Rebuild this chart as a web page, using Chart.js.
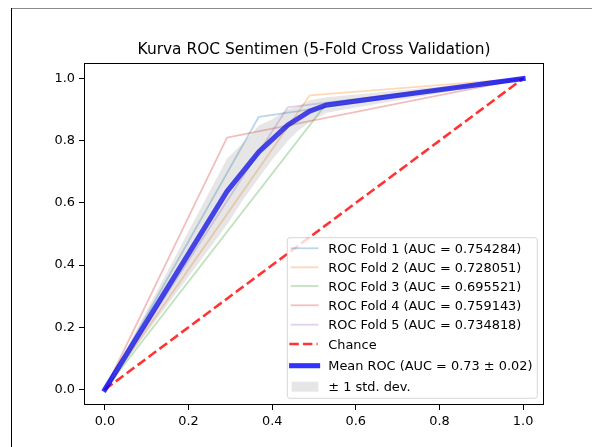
<!DOCTYPE html>
<html><head><meta charset="utf-8">
<script src="https://cdn.jsdelivr.net/npm/chart.js@4/dist/chart.umd.min.js"></script>
<style>
html,body{margin:0;padding:0;background:#fff;overflow:hidden}
#wrap{position:relative;width:592px;height:447px;background:#fff}
canvas{position:absolute;left:0;top:0}
.fr-top{position:absolute;left:11px;top:8px;width:581px;height:1px;background:#8a8a8a}
.fr-left{position:absolute;left:11px;top:8px;width:1px;height:439px;background:#000}
</style></head><body>
<div id="wrap"><canvas id="c" width="592" height="447"></canvas><div class="fr-top"></div><div class="fr-left"></div></div>
<script>
// ---- data ----
const chartTitle = 'Kurva ROC Sentimen (5-Fold Cross Validation)';
const xTicks = [0, 0.2, 0.4, 0.6, 0.8, 1.0];
const yTicks = [0, 0.2, 0.4, 0.6, 0.8, 1.0];

const foldLabels = [
  'ROC Fold 1 (AUC = 0.754284)',
  'ROC Fold 2 (AUC = 0.728051)',
  'ROC Fold 3 (AUC = 0.695521)',
  'ROC Fold 4 (AUC = 0.759143)',
  'ROC Fold 5 (AUC = 0.734818)'
];
const fold1FPR = [0, 0.368, 1];  const fold1TPR = [0, 0.877, 1];
const fold2FPR = [0, 0.490, 1];  const fold2TPR = [0, 0.946, 1];
const fold3FPR = [0, 0.530, 1];  const fold3TPR = [0, 0.920, 1];
const fold4FPR = [0, 0.292, 1];  const fold4TPR = [0, 0.810, 1];
const fold5FPR = [0, 0.437, 1];  const fold5TPR = [0, 0.907, 1];

const chanceLabel = 'Chance';
const chanceFPR = [0, 1];
const chanceTPR = [0, 1];

const meanLabel = 'Mean ROC (AUC = 0.73 \u00b1 0.02)';
const meanFPR = [0, 0.292, 0.368, 0.437, 0.490, 0.530, 1];
const meanTPR = [0, 0.637, 0.764, 0.850, 0.895, 0.915, 1];

const bandLabel = '\u00b1 1 std. dev.';
const bandFPR   = [0, 0.1,   0.2,   0.292, 0.33,  0.368, 0.4,   0.437, 0.46,  0.49,  0.53,  0.6,   0.8,   1];
const bandUpper = [0, 0.254, 0.509, 0.743, 0.792, 0.849, 0.869, 0.901, 0.909, 0.930, 0.940, 0.949, 0.974, 1];
const bandLower = [0, 0.182, 0.363, 0.530, 0.609, 0.680, 0.739, 0.798, 0.830, 0.860, 0.890, 0.907, 0.953, 1];

// ---- styling ----
const FONT = 'DejaVu Sans';
const foldColors = ['rgba(31,119,180,0.3)','rgba(255,127,14,0.3)','rgba(44,160,44,0.3)','rgba(214,39,40,0.3)','rgba(148,103,189,0.3)'];
const pts = (xs, ys) => xs.map((x, i) => ({x: x, y: ys[i]}));

const foldFPRs = [fold1FPR, fold2FPR, fold3FPR, fold4FPR, fold5FPR];
const foldTPRs = [fold1TPR, fold2TPR, fold3TPR, fold4TPR, fold5TPR];

const datasets = [];
foldLabels.forEach((lab, i) => {
  datasets.push({
    label: lab, data: pts(foldFPRs[i], foldTPRs[i]),
    borderColor: foldColors[i], borderWidth: 1.8, pointRadius: 0, fill: false, tension: 0,
    borderCapStyle: 'square', borderJoinStyle: 'round', order: 10 - i, legendKind: 'line'
  });
});
datasets.push({
  label: chanceLabel, data: pts(chanceFPR, chanceTPR),
  borderColor: 'rgba(255,0,0,0.8)', borderWidth: 2.6, borderDash: [9.5, 4.1], pointRadius: 0, fill: false,
  borderCapStyle: 'butt', order: 4, legendKind: 'line'
});
datasets.push({
  label: meanLabel, data: pts(meanFPR, meanTPR),
  borderColor: 'rgba(0,0,255,0.8)', borderWidth: 5.1, pointRadius: 0, fill: false,
  borderCapStyle: 'square', borderJoinStyle: 'round', order: 3, legendKind: 'line'
});
datasets.push({
  label: bandLabel, data: pts(bandFPR, bandUpper),
  borderColor: 'transparent', borderWidth: 0, pointRadius: 0, fill: false,
  backgroundColor: 'rgba(128,128,128,0.2)', order: 2, legendKind: 'patch'
});
datasets.push({
  label: '', data: pts(bandFPR, bandLower),
  borderColor: 'transparent', borderWidth: 0, pointRadius: 0, fill: '-1',
  backgroundColor: 'rgba(128,128,128,0.2)', order: 1, legendKind: null
});

const framePlugin = {
  id: 'frameLegend',
  afterDatasetsDraw(chart) {
    const ctx = chart.ctx, ca = chart.chartArea;
    ctx.save();
    ctx.strokeStyle = '#000'; ctx.lineWidth = 1;
    ctx.strokeRect(Math.round(ca.left) + 0.5, Math.round(ca.top) + 0.5,
                   Math.round(ca.right) - Math.round(ca.left) - 1, Math.round(ca.bottom) - Math.round(ca.top) - 1);
    ctx.restore();
  },
  afterDraw(chart) {
    const ctx = chart.ctx, ca = chart.chartArea;
    const W = 250, H = 160.6;
    const L = ca.right - 6.7 - W, T = ca.bottom - 6.7 - H;
    const r = 2.6;
    ctx.save();
    ctx.beginPath();
    ctx.moveTo(L + r, T);
    ctx.lineTo(L + W - r, T); ctx.quadraticCurveTo(L + W, T, L + W, T + r);
    ctx.lineTo(L + W, T + H - r); ctx.quadraticCurveTo(L + W, T + H, L + W - r, T + H);
    ctx.lineTo(L + r, T + H); ctx.quadraticCurveTo(L, T + H, L, T + H - r);
    ctx.lineTo(L, T + r); ctx.quadraticCurveTo(L, T, L + r, T);
    ctx.closePath();
    ctx.fillStyle = 'rgba(255,255,255,0.8)'; ctx.fill();
    ctx.strokeStyle = 'rgba(204,204,204,0.8)'; ctx.lineWidth = 1; ctx.stroke();

    const rows = [10.6, 29.6, 48.3, 67.6, 87.0, 106.3, 128.0, 149.0];
    const items = chart.data.datasets.filter(d => d.legendKind);
    ctx.font = '12.9px "' + FONT + '"';
    ctx.textBaseline = 'alphabetic'; ctx.textAlign = 'left';
    items.forEach((d, i) => {
      const y = T + rows[i];
      if (d.legendKind === 'patch') {
        ctx.fillStyle = d.backgroundColor;
        ctx.fillRect(L + 4.4, y - 5, 26.6, 10);
      } else {
        ctx.beginPath();
        ctx.strokeStyle = d.borderColor; ctx.lineWidth = d.borderWidth;
        ctx.lineCap = d.borderCapStyle || 'butt';
        ctx.setLineDash(d.borderDash || []);
        const x1 = d.borderDash ? L + 2.0 : L + 4.3;
        const x2 = d.borderDash ? L + 30.3 : L + 30.3;
        ctx.moveTo(x1, y); ctx.lineTo(x2, y); ctx.stroke();
        ctx.setLineDash([]);
      }
      ctx.fillStyle = '#000';
      ctx.fillText(d.label, L + 41, y + 4.7);
    });
    ctx.restore();
  }
};

const tickFont = {family: FONT, size: 12.9};
new Chart(document.getElementById('c'), {
  type: 'line',
  data: {datasets: datasets},
  plugins: [framePlugin],
  options: {
    responsive: false, animation: false, events: [],
    layout: {padding: {left: 0, right: 48, top: 0, bottom: 0}},
    plugins: {
      legend: {display: false}, tooltip: {enabled: false},
      title: {display: true, text: chartTitle, fullSize: false, color: '#000',
              font: {family: FONT, size: 15.4, weight: 'normal', lineHeight: 1.2},
              padding: {top: 40.3, bottom: 4.2}}
    },
    scales: {
      x: {
        type: 'linear', min: -0.05, max: 1.05,
        afterBuildTicks: s => { s.ticks = xTicks.map(v => ({value: v})); },
        afterFit: s => { s.height = 42; },
        ticks: {callback: v => Number(v).toFixed(1), font: tickFont, color: '#000', padding: 4, maxRotation: 0, autoSkip: false},
        grid: {drawOnChartArea: false, drawTicks: true, tickLength: 5, color: '#000', tickColor: '#000', tickWidth: 1},
        border: {display: false}
      },
      y: {
        type: 'linear', min: -0.05, max: 1.05,
        afterBuildTicks: s => { s.ticks = yTicks.map(v => ({value: v})); },
        afterFit: s => { s.width = 84; },
        ticks: {callback: v => Number(v).toFixed(1), font: tickFont, color: '#000', padding: 4, autoSkip: false},
        grid: {drawOnChartArea: false, drawTicks: true, tickLength: 5, color: '#000', tickColor: '#000', tickWidth: 1},
        border: {display: false}
      }
    }
  }
});
</script>
</body></html>
